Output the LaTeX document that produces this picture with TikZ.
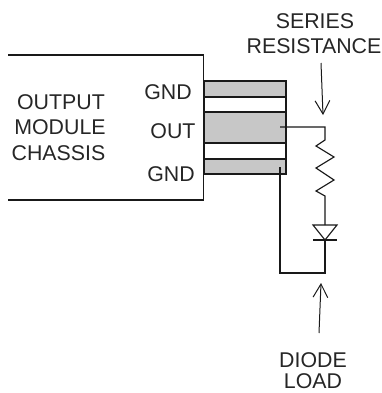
\documentclass[tikz,border=0pt]{standalone}
\usepackage{fontspec}
\setmainfont{Liberation Sans}
\usetikzlibrary{arrows.meta}
\tikzset{
  pin/.style = {draw=black!90, fill=black!22, line width=1pt},
  gap/.style = {draw=black!90, line width=1pt},
  wire/.style = {draw=black!90, line width=0.85pt},
  lbl/.style = {font=\fontsize{16pt}{19pt}\selectfont, text=black!85, inner sep=0pt},
  pointer/.style = {draw=black!90, line width=0.75pt, -{Straight Barb[length=10pt,width=11pt]}}
}
\begin{document}
\begin{tikzpicture}[x=0.75pt,y=-0.75pt]
      \useasboundingbox (0,0) rectangle (382,393);
      % pins behind the chassis edge
      \draw[gap] (204,97) rectangle (286,112);
      \draw[gap] (204,143) rectangle (286,159);
      \draw[pin] (204,81) rectangle (286,97);
      \draw[pin] (204,112) rectangle (286,143);
      \draw[pin] (204,159) rectangle (286,174);
      \draw[line width=1.2pt, draw=black!90] (8,55) -- (203.5,55) -- (203.5,200) -- (8,200);
      % labels
      \node[lbl] (out1) at (61,102) {OUTPUT};
      \node[lbl] (out2) at (60,127) {MODULE};
      \node[lbl] (out3) at (58.5,153) {CHASSIS};
      \node[lbl] (gnda) at (168,92) {GND};
      \node[lbl] (outp) at (173,131) {OUT};
      \node[lbl] (gndb) at (171,174) {GND};
      \node[lbl] (ser1) at (315,21) {SERIES};
      \node[lbl] (ser2) at (314,46) {RESISTANCE};
      \node[lbl] (dio1) at (313,360) {DIODE};
      \node[lbl] (dio2) at (313,381) {LOAD};
      % circuit
      \coordinate (a) at (280,127);
      \coordinate (b) at (325,127);
      \coordinate (r) at (325,140);
      \coordinate (s) at (325,196);
      \coordinate (d) at (325,225);
      \coordinate (k) at (325,240);
      \coordinate (e) at (325,273);
      \coordinate (f) at (280,273);
      \coordinate (g) at (280,167);
      \draw[wire] (a) -- (b) -- (r) -- (316,146) -- (334,157) -- (316,168) -- (334,180) -- (316,191) -- (s) -- (d);
      \draw[wire] (313,225) -- (337,225) -- (k) -- cycle;
      \draw[wire] (313,240) -- (337,240);
      \draw[wire] (k) -- (e) -- (f) -- (g);
      % pointers
      \coordinate (p1) at (321,63);
      \coordinate (p2) at (323,115);
      \coordinate (q1) at (319,333);
      \coordinate (q2) at (321,283);
      \draw[pointer] (p1) -- (p2);
      \draw[pointer] (q1) -- (q2);
\end{tikzpicture}
\end{document}
